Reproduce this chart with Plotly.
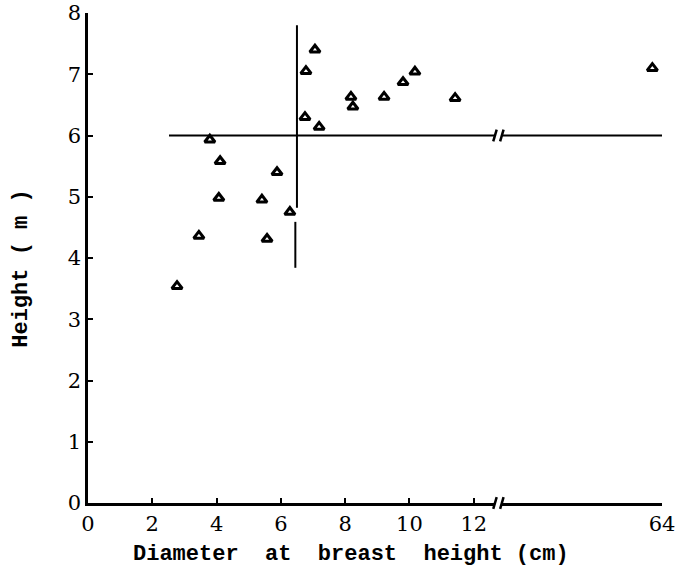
import plotly.graph_objects as go

# ---- data ----
dbh_main = [2.77, 3.45, 3.79, 4.11, 4.07, 5.41, 5.57, 5.88, 6.28, 6.75,
            6.78, 7.06, 7.19, 8.18, 8.24, 9.21, 9.80, 10.17, 11.42]
height_main = [3.54, 4.36, 5.93, 5.58, 4.98, 4.95, 4.31, 5.40, 4.75, 6.30,
               7.05, 7.40, 6.14, 6.63, 6.47, 6.63, 6.87, 7.04, 6.61]
dbh_big = [63.7]
height_big = [7.10]

x_ticks_left = [0, 2, 4, 6, 8, 10, 12]
x_ticks_right = [64]
y_ticks = [0, 1, 2, 3, 4, 5, 6, 7, 8]

# reference lines
h_line_y = 6.0
h_line_x_left = [2.52, 12.66]
h_line_x_right = [59.02, 64]
v_line_x_upper = 6.5
v_line_y_upper = [4.82, 7.8]
v_line_x_lower = 6.45
v_line_y_lower = [3.84, 4.59]

# axis layout
left_range = [0, 12.66]
right_range = [59.02, 64]
left_domain = [0, 0.709]
right_domain = [0.721, 1]

mono = "Liberation Mono, monospace"
serif = "DejaVu Serif, Liberation Serif, serif"

fig = go.Figure()

line_style = dict(color="black", width=2)
fig.add_trace(go.Scatter(x=h_line_x_left, y=[h_line_y] * 2, mode="lines",
                         line=line_style, xaxis="x", yaxis="y", hoverinfo="skip"))
fig.add_trace(go.Scatter(x=h_line_x_right, y=[h_line_y] * 2, mode="lines",
                         line=line_style, xaxis="x2", yaxis="y", hoverinfo="skip"))
fig.add_trace(go.Scatter(x=[v_line_x_upper] * 2, y=v_line_y_upper, mode="lines",
                         line=line_style, xaxis="x", yaxis="y", hoverinfo="skip"))
fig.add_trace(go.Scatter(x=[v_line_x_lower] * 2, y=v_line_y_lower, mode="lines",
                         line=line_style, xaxis="x", yaxis="y", hoverinfo="skip"))

marker = dict(symbol="triangle-up", size=9, color="white",
              line=dict(color="black", width=3))
fig.add_trace(go.Scatter(x=dbh_main, y=height_main, mode="markers", marker=marker,
                         xaxis="x", yaxis="y", cliponaxis=False))
fig.add_trace(go.Scatter(x=dbh_big, y=height_big, mode="markers", marker=marker,
                         xaxis="x2", yaxis="y", cliponaxis=False))

axis_common = dict(showline=True, linecolor="black", linewidth=2.5,
                   ticks="inside", ticklen=5, tickwidth=2, tickcolor="black",
                   showgrid=False, zeroline=False, automargin=False,
                   tickfont=dict(family=serif, size=21, color="black"))

fig.update_layout(
    template="none",
    width=678, height=580,
    margin=dict(l=88, r=16, t=13, b=77, autoexpand=False),
    paper_bgcolor="white", plot_bgcolor="white",
    showlegend=False,
    xaxis=dict(domain=left_domain, range=left_range, tickvals=x_ticks_left,
               anchor="y", ticklabelstandoff=0, **axis_common),
    xaxis2=dict(domain=right_domain, range=right_range, tickvals=x_ticks_right,
                anchor="y", ticklabelstandoff=0, **axis_common),
    yaxis=dict(domain=[0, 1], range=[0, 8], tickvals=y_ticks, anchor="x",
               ticklabelstandoff=0, **axis_common),
)

# axis-break marks (paper coordinates)
ya = h_line_y / 8.0
shapes = []
for xp in (left_domain[1], right_domain[0]):
    for yp in (0.0, ya):
        shapes.append(dict(type="line", xref="paper", yref="paper",
                           x0=xp - 0.003, y0=yp - 0.012, x1=xp + 0.003, y1=yp + 0.012,
                           line=dict(color="black", width=2.5)))
fig.update_layout(shapes=shapes)

fig.add_annotation(text="Diameter\u00a0\u00a0at\u00a0\u00a0breast\u00a0\u00a0height\u00a0(cm)",
                   xref="paper", yref="paper", x=0.458, y=-0.106,
                   xanchor="center", yanchor="middle", showarrow=False,
                   font=dict(family=mono, size=22, color="black", weight="bold"))
fig.add_annotation(text="Height\u00a0(\u00a0m\u00a0)", textangle=-90,
                   xref="paper", yref="paper", x=-0.115, y=0.478,
                   xanchor="center", yanchor="middle", showarrow=False,
                   font=dict(family=mono, size=22, color="black", weight="bold"))

fig.write_html("out.html")
